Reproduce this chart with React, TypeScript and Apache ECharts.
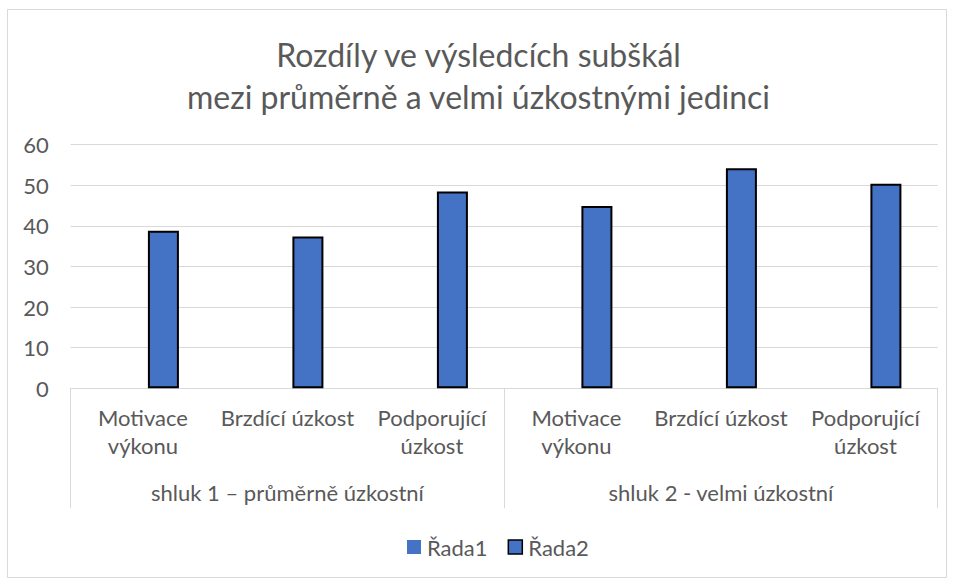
import React, { useEffect, useRef } from "react";
import * as echarts from "echarts";

const titleLines = ["Rozdíly ve výsledcích subškál", "mezi průměrně a velmi úzkostnými jedinci"];
const categories = [
  "Motivace\nvýkonu",
  "Brzdící úzkost",
  "Podporující\núzkost",
  "Motivace\nvýkonu",
  "Brzdící úzkost",
  "Podporující\núzkost",
];
const groups = ["shluk 1 – průměrně úzkostní", "shluk 2 - velmi úzkostní"];
const seriesNames = ["Řada1", "Řada2"];
const rada1: (number | null)[] = [null, null, null, null, null, null];
const rada2 = [38.8, 37.4, 48.5, 44.9, 54.2, 50.4];
const yTicks = { min: 0, max: 60, interval: 10 };

const FONT = "Lato";
const TEXT = "#595959";
const GRID = "#d9d9d9";
const BLUE = "#4472C4";

export default function App() {
  const ref = useRef<HTMLDivElement>(null);
  useEffect(() => {
    if (!ref.current) return;
    const chart = echarts.init(ref.current, undefined, { renderer: "svg" });
    chart.setOption({
      animation: false,
      backgroundColor: "#ffffff",
      textStyle: { fontFamily: FONT },
      title: {
        text: titleLines.join("\n"),
        left: "center",
        top: 33,
        padding: [0, 0, 0, 10],
        textStyle: {
          fontFamily: FONT,
          fontSize: 32,
          fontWeight: "normal",
          color: TEXT,
          lineHeight: 42,
        },
      },
      graphic: [
        {
          type: "rect",
          shape: { x: 7.5, y: 9.5, width: 939, height: 568 },
          style: { fill: "none", stroke: GRID, lineWidth: 1 },
          silent: true,
        },
      ],
      legend: {
        left: 402,
        top: 531,
        itemWidth: 14,
        itemHeight: 14,
        itemGap: 20,
        icon: "rect",
        data: [
          { name: seriesNames[0], itemStyle: { color: BLUE, borderWidth: 0 } },
          { name: seriesNames[1], itemStyle: { color: BLUE, borderColor: "#000000", borderWidth: 1.5 } },
        ],
        textStyle: { fontFamily: FONT, fontSize: 22, color: TEXT, padding: [0, 0, 0, 1] },
      },
      grid: { left: 70.7, right: 19.3, top: 144.7, bottom: 192.7, containLabel: false },
      xAxis: [
        {
          type: "category",
          data: categories,
          axisLine: { show: true, lineStyle: { color: GRID, width: 1 } },
          axisTick: { show: false },
          axisLabel: {
            interval: 0,
            margin: 15,
            fontFamily: FONT,
            fontSize: 22,
            lineHeight: 28,
            color: TEXT,
          },
        },
        {
          type: "category",
          position: "bottom",
          data: groups,
          axisLine: { show: false },
          axisTick: {
            show: true,
            interval: 0,
            alignWithLabel: false,
            length: 120,
            lineStyle: { color: GRID, width: 1 },
          },
          axisLabel: {
            interval: 0,
            margin: 90,
            fontFamily: FONT,
            fontSize: 22,
            lineHeight: 28,
            color: TEXT,
          },
        },
      ],
      yAxis: {
        type: "value",
        min: yTicks.min,
        max: yTicks.max,
        interval: yTicks.interval,
        axisLine: { show: false },
        axisTick: { show: false },
        splitLine: { lineStyle: { color: GRID, width: 1 } },
        axisLabel: { margin: 22, fontFamily: FONT, fontSize: 22, color: TEXT },
      },
      series: [
        {
          name: seriesNames[0],
          type: "bar",
          xAxisIndex: 0,
          data: rada1,
          barWidth: 31,
          itemStyle: { color: BLUE },
        },
        {
          name: seriesNames[1],
          type: "bar",
          xAxisIndex: 0,
          data: rada2,
          barWidth: 31,
          barGap: "32%",
          itemStyle: { color: BLUE, borderColor: "#000000", borderWidth: 2 },
        },
      ],
    });
    return () => chart.dispose();
  }, []);
  return (
    <div
      ref={ref}
      style={{ position: "absolute", left: 0, top: 0, width: 957, height: 581 }}
    />
  );
}
